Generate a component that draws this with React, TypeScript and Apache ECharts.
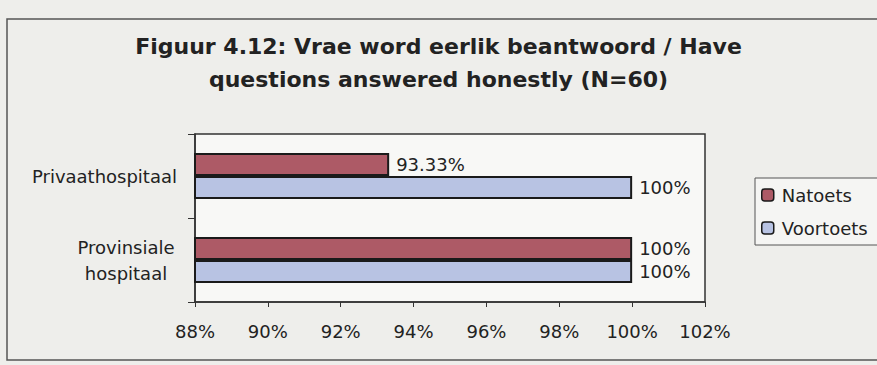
import React, { useEffect, useRef } from "react";
import * as echarts from "echarts";

const titleLines = ["Figuur 4.12: Vrae word eerlik beantwoord / Have", "questions answered honestly (N=60)"];
const categories = ["Provinsiale\nhospitaal", "Privaathospitaal"];
const seriesNames = ["Natoets", "Voortoets"];
const natoets = [100, 93.33];
const voortoets = [100, 100];
const xMin = 88;
const xMax = 102;
const xStep = 2;

const FONT = "DejaVu Sans";
const TEXT = "#222222";

export default function App() {
  const ref = useRef<HTMLDivElement>(null);
  useEffect(() => {
    if (!ref.current) return;
    const chart = echarts.init(ref.current, undefined, { renderer: "svg" });
    const label = {
      show: true,
      position: "right",
      distance: 7,
      fontFamily: FONT,
      fontSize: 18,
      color: TEXT,
      formatter: (p: any) => `${p.value}%`,
    };
    chart.setOption({
      animation: false,
      backgroundColor: "#eeeeeb",
      textStyle: { fontFamily: FONT, color: TEXT },
      title: {
        text: titleLines.join("\n"),
        left: "center",
        top: 30,
        padding: [0, 0, 0, 23],
        textStyle: { fontFamily: FONT, fontSize: 22, fontWeight: "bold", color: TEXT, lineHeight: 33 },
      },
      graphic: [
        {
          type: "rect",
          shape: { x: 7, y: 19, width: 890, height: 341 },
          style: { fill: "none", stroke: "#555", lineWidth: 1.5 },
          silent: true,
        },
      ],
      legend: {
        data: seriesNames,
        orient: "vertical",
        left: 755,
        top: 178,
        padding: [8, 14, 8, 6],
        itemWidth: 12,
        itemHeight: 12,
        itemGap: 15,
        borderColor: "#555",
        borderWidth: 1,
        backgroundColor: "#f5f5f3",
        textStyle: { fontFamily: FONT, fontSize: 18, color: TEXT, padding: [0, 0, 0, 3] },
        itemStyle: { borderColor: "#1a1a1a", borderWidth: 1.5 },
      },
      grid: {
        left: 195,
        top: 134,
        right: 172,
        bottom: 63,
        show: true,
        backgroundColor: "#f8f8f6",
        borderColor: "#333",
        borderWidth: 1.5,
      },
      xAxis: {
        type: "value",
        min: xMin,
        max: xMax,
        interval: xStep,
        axisLine: { show: true, lineStyle: { color: "#333", width: 1.5 } },
        axisTick: { show: true, length: 5, lineStyle: { color: "#333" } },
        splitLine: { show: false },
        axisLabel: {
          margin: 20,
          fontFamily: FONT,
          fontSize: 18,
          color: TEXT,
          formatter: (v: number) => `${v}%`,
        },
      },
      yAxis: {
        type: "category",
        data: categories,
        axisLine: { show: true, lineStyle: { color: "#333", width: 1.5 } },
        axisTick: { show: true, length: 7, lineStyle: { color: "#333" } },
        axisLabel: {
          margin: 18,
          fontFamily: FONT,
          fontSize: 18,
          color: TEXT,
          lineHeight: 26,
          formatter: (v: string) =>
            v.includes("\n") ? v.split("\n").map((s) => `{c|${s}}`).join("\n") : v,
          rich: {
            c: { width: 102, align: "center", fontFamily: FONT, fontSize: 18, color: TEXT, lineHeight: 26 },
          },
        },
      },
      series: [
        {
          name: "Natoets",
          type: "bar",
          data: natoets,
          barWidth: 23,
          barGap: "0%",
          itemStyle: { color: "#ad5a66", borderColor: "#1a1a1a", borderWidth: 2 },
          label,
        },
        {
          name: "Voortoets",
          type: "bar",
          data: voortoets,
          barWidth: 23,
          barGap: "0%",
          itemStyle: { color: "#b8c3e3", borderColor: "#1a1a1a", borderWidth: 2 },
          label,
        },
      ],
    });
    return () => chart.dispose();
  }, []);
  return (
    <div
      ref={ref}
      style={{ position: "fixed", left: 0, top: 0, width: 877, height: 365 }}
    />
  );
}
